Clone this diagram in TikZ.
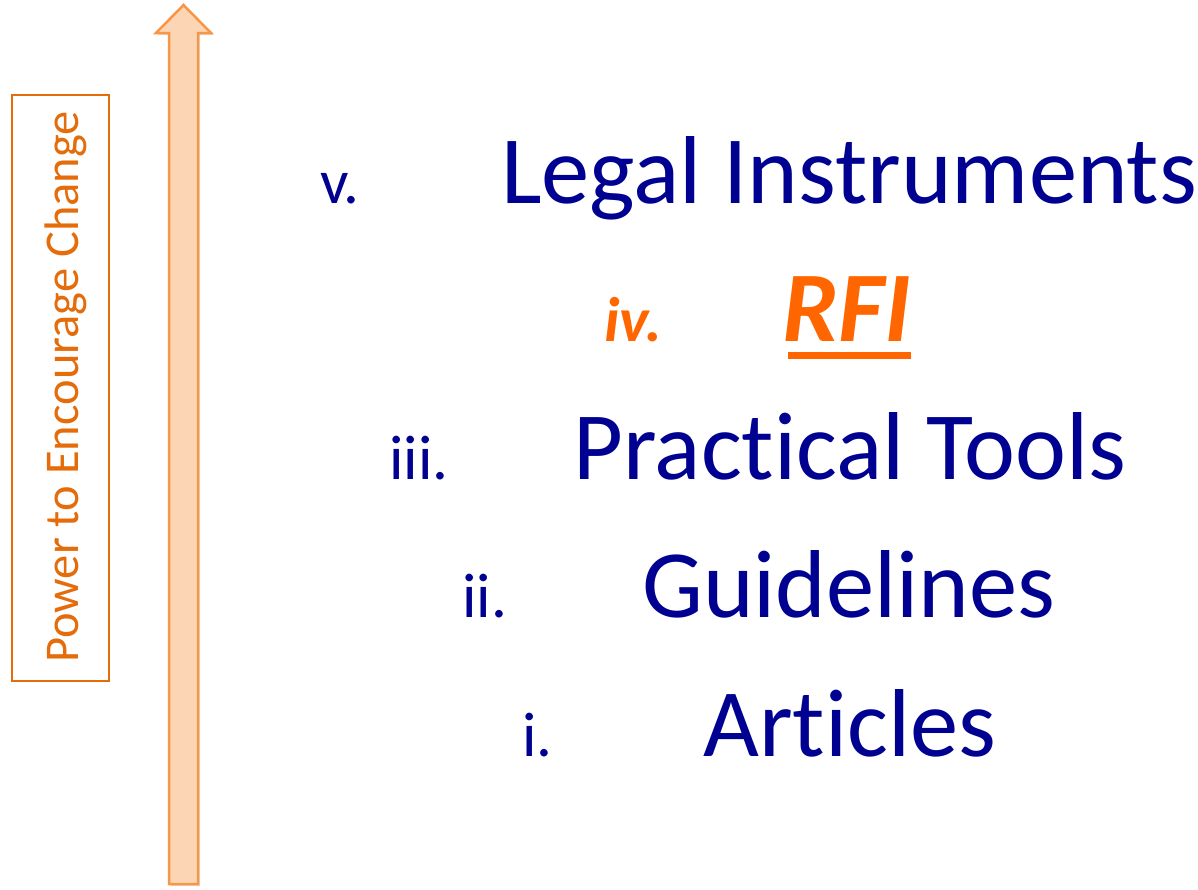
\documentclass[tikz,border=0pt]{standalone}
\usepackage{fontspec}
\setmainfont{Carlito}[Ligatures={NoCommon,NoContextual,NoRare}]
\usetikzlibrary{shadows,calc}
\definecolor{navy}{RGB}{0,0,145}
\definecolor{rfiorange}{RGB}{255,102,0}
\definecolor{boxorange}{RGB}{228,108,10}
\definecolor{arrowfill}{RGB}{252,213,180}
\definecolor{arrowline}{RGB}{247,150,70}
\tikzset{
  big/.style={inner sep=0pt, anchor=base west, text=navy, font=\fontsize{96.5}{96.5}\selectfont},
  num/.style={inner sep=0pt, anchor=base west, text=navy, font=\fontsize{63}{63}\selectfont},
  bigh/.style={inner sep=0pt, anchor=base west, text=rfiorange, font=\fontsize{100}{100}\selectfont\bfseries\itshape},
  numh/.style={inner sep=0pt, anchor=base west, text=rfiorange, font=\fontsize{63}{63}\selectfont\bfseries\itshape},
}
\begin{document}
\begin{tikzpicture}[x=1pt,y=-1pt]
\useasboundingbox (0,0) rectangle (1198,889);
% arrow
\draw[line width=2.5pt, arrowline, fill=arrowfill, line join=miter,
      drop shadow={opacity=0.25, shadow xshift=2pt, shadow yshift=-2pt}]
  (169,884) -- (169,33) -- (156,33) -- (183.5,5) -- (211,33) -- (198,33) -- (198,884) -- cycle;
% box
\node[draw=boxorange, line width=1.6pt, minimum width=97pt, minimum height=586pt, inner sep=0pt] (box) at (60.5,388) {};
\node[rotate=90, text=boxorange, font=\fontsize{48.5}{48.5}\selectfont, inner sep=0pt] (lbl) at (65.5,387) {Power to Encourage Change};
% items
\node[num] (n5) at (320,203) {v.};
\node[big] (t5) at (501,203) {Legal Instruments};
\node[numh] (n4) at (604,341) {iv.};
\node[bigh] (t4) at (782,341) {RFI};
\fill[rfiorange] ($(t4.base west)+(6,11)$) rectangle ($(t4.base east)+(0,18)$);
\node[num] (n3) at (389,479) {iii.};
\node[big] (t3) at (573,479) {Prac\kern0pt tical Tools};
\node[num] (n2) at (462,617) {ii.};
\node[big] (t2) at (642,617) {Guidelines};
\node[num] (n1) at (522,756) {i.};
\node[big] (t1) at (703,756) {Ar\kern0pt ticles};
\end{tikzpicture}
\end{document}
